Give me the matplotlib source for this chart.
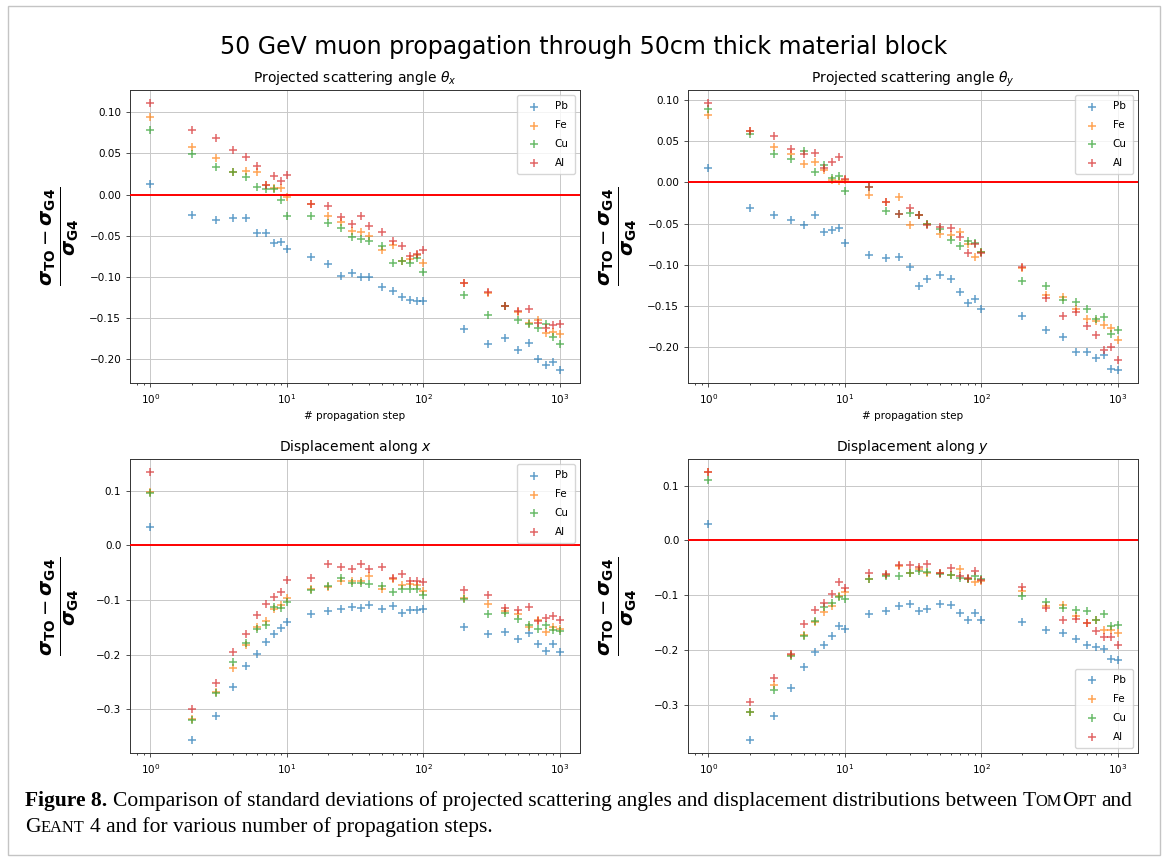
import numpy as np
import matplotlib
matplotlib.use('Agg')
import matplotlib.pyplot as plt
from matplotlib.ticker import MultipleLocator
from matplotlib.patches import Rectangle

# number of propagation steps (shared x values)
steps = [1, 2, 3, 4, 5, 6, 7, 8, 9, 10, 15, 20, 25, 30, 35, 40, 50, 60, 70, 80, 90,
         100, 200, 300, 400, 500, 600, 700, 800, 900, 1000]
materials = ['Pb', 'Fe', 'Cu', 'Al']

# projected scattering angle theta_x
pb_tx = [0.0125, -0.025, -0.031, -0.029, -0.029, -0.047, -0.047, -0.059, -0.058, -0.066, -0.076,
         -0.084, -0.099, -0.096, -0.100, -0.100, -0.113, -0.117, -0.124, -0.128, -0.129, -0.129,
         -0.163, -0.182, -0.175, -0.189, -0.181, -0.200, -0.207, -0.204, -0.213]
fe_tx = [0.094, 0.058, 0.044, 0.028, 0.029, 0.027, 0.012, 0.008, 0.008, -0.003, -0.012, -0.026,
         -0.033, -0.044, -0.045, -0.051, -0.067, -0.061, -0.081, -0.078, -0.073, -0.083, -0.108,
         -0.120, -0.136, -0.143, -0.156, -0.152, -0.168, -0.167, -0.170]
cu_tx = [0.078, 0.049, 0.033, 0.027, 0.021, 0.009, 0.007, 0.007, -0.007, -0.026, -0.026, -0.035,
         -0.041, -0.052, -0.054, -0.057, -0.062, -0.083, -0.081, -0.083, -0.077, -0.094, -0.122,
         -0.146, -0.136, -0.153, -0.158, -0.162, -0.158, -0.173, -0.182]
al_tx = [0.111, 0.078, 0.069, 0.054, 0.046, 0.035, 0.012, 0.023, 0.017, 0.024, -0.012, -0.014,
         -0.027, -0.036, -0.026, -0.038, -0.046, -0.057, -0.062, -0.075, -0.072, -0.068, -0.108,
         -0.119, -0.136, -0.142, -0.139, -0.156, -0.162, -0.159, -0.158]

# projected scattering angle theta_y
pb_ty = [0.017, -0.031, -0.039, -0.045, -0.051, -0.039, -0.060, -0.058, -0.055, -0.073, -0.088,
         -0.091, -0.090, -0.102, -0.125, -0.117, -0.112, -0.117, -0.133, -0.146, -0.141, -0.153,
         -0.162, -0.179, -0.187, -0.205, -0.205, -0.213, -0.209, -0.226, -0.227]
fe_ty = [0.082, 0.062, 0.043, 0.034, 0.023, 0.025, 0.015, 0.003, 0.002, 0.003, -0.015, -0.024,
         -0.018, -0.051, -0.040, -0.050, -0.062, -0.064, -0.060, -0.075, -0.090, -0.084, -0.104,
         -0.137, -0.139, -0.153, -0.166, -0.168, -0.173, -0.177, -0.191]
cu_ty = [0.089, 0.059, 0.035, 0.029, 0.038, 0.013, 0.021, 0.006, 0.008, -0.010, -0.006, -0.034,
         -0.038, -0.037, -0.039, -0.050, -0.057, -0.070, -0.077, -0.071, -0.073, -0.084, -0.119,
         -0.125, -0.143, -0.145, -0.153, -0.166, -0.163, -0.184, -0.179]
al_ty = [0.096, 0.063, 0.056, 0.040, 0.035, 0.036, 0.018, 0.025, 0.031, 0.004, -0.006, -0.024,
         -0.038, -0.031, -0.040, -0.051, -0.054, -0.055, -0.066, -0.085, -0.074, -0.085, -0.102,
         -0.140, -0.162, -0.157, -0.174, -0.185, -0.203, -0.199, -0.215]

# displacement along x
pb_dx = [0.034, -0.356, -0.313, -0.260, -0.221, -0.199, -0.177, -0.163, -0.152, -0.140, -0.126,
         -0.121, -0.117, -0.112, -0.114, -0.110, -0.117, -0.111, -0.123, -0.118, -0.118, -0.117,
         -0.149, -0.163, -0.158, -0.172, -0.161, -0.180, -0.193, -0.181, -0.195]
fe_dx = [0.098, -0.318, -0.269, -0.224, -0.183, -0.149, -0.139, -0.117, -0.110, -0.096, -0.079,
         -0.077, -0.065, -0.065, -0.066, -0.056, -0.079, -0.061, -0.072, -0.071, -0.072, -0.083,
         -0.096, -0.108, -0.121, -0.126, -0.149, -0.137, -0.158, -0.150, -0.154]
cu_dx = [0.096, -0.320, -0.270, -0.213, -0.179, -0.154, -0.145, -0.112, -0.115, -0.103, -0.082,
         -0.074, -0.060, -0.068, -0.068, -0.071, -0.074, -0.085, -0.079, -0.080, -0.079, -0.091,
         -0.099, -0.126, -0.123, -0.134, -0.146, -0.154, -0.146, -0.155, -0.156]
al_dx = [0.134, -0.299, -0.252, -0.196, -0.163, -0.128, -0.108, -0.094, -0.086, -0.064, -0.059,
         -0.034, -0.039, -0.043, -0.034, -0.044, -0.039, -0.060, -0.053, -0.066, -0.066, -0.067,
         -0.082, -0.091, -0.115, -0.118, -0.113, -0.138, -0.133, -0.129, -0.136]

# displacement along y
pb_dy = [0.030, -0.364, -0.320, -0.270, -0.232, -0.204, -0.192, -0.174, -0.156, -0.162, -0.134,
         -0.130, -0.120, -0.117, -0.130, -0.125, -0.117, -0.119, -0.132, -0.146, -0.132, -0.146,
         -0.149, -0.164, -0.170, -0.181, -0.192, -0.195, -0.198, -0.216, -0.219]
fe_dy = [0.124, -0.313, -0.265, -0.210, -0.173, -0.149, -0.131, -0.120, -0.102, -0.094, -0.071,
         -0.064, -0.047, -0.059, -0.053, -0.059, -0.060, -0.064, -0.053, -0.070, -0.076, -0.074,
         -0.093, -0.120, -0.119, -0.138, -0.151, -0.145, -0.163, -0.164, -0.170]
cu_dy = [0.110, -0.314, -0.273, -0.212, -0.175, -0.148, -0.121, -0.115, -0.104, -0.108, -0.071,
         -0.065, -0.066, -0.060, -0.057, -0.058, -0.062, -0.064, -0.068, -0.071, -0.066, -0.070,
         -0.101, -0.113, -0.123, -0.128, -0.130, -0.145, -0.135, -0.157, -0.155]
al_dy = [0.124, -0.295, -0.252, -0.207, -0.152, -0.127, -0.114, -0.099, -0.076, -0.087, -0.060,
         -0.062, -0.046, -0.046, -0.048, -0.044, -0.060, -0.050, -0.066, -0.068, -0.057, -0.073,
         -0.085, -0.124, -0.145, -0.143, -0.151, -0.166, -0.176, -0.176, -0.192]

colors = ['tab:blue', 'tab:orange', 'tab:green', 'tab:red']

W, H = 1168, 861
fig = plt.figure(figsize=(W / 100, H / 100), dpi=100)


def add_ax(x0, y0, x1, y1):
    # axes placed by pixel box (top-left origin)
    return fig.add_axes([x0 / W, 1 - y1 / H, (x1 - x0) / W, (y1 - y0) / H])


ylab = (r'$\frac{\boldsymbol{\sigma}_{\mathbf{TO}}-\boldsymbol{\sigma}_{\mathbf{G4}}}'
        r'{\boldsymbol{\sigma}_{\mathbf{G4}}}$')

panels = [
    (add_ax(130, 90, 580, 383), r'Projected scattering angle $\theta_x$',
     [pb_tx, fe_tx, cu_tx, al_tx], 0.05, 'upper right', True),
    (add_ax(688, 90, 1138, 383), r'Projected scattering angle $\theta_y$',
     [pb_ty, fe_ty, cu_ty, al_ty], 0.05, 'upper right', True),
    (add_ax(130, 459, 580, 753), r'Displacement along $x$',
     [pb_dx, fe_dx, cu_dx, al_dx], 0.1, 'upper right', False),
    (add_ax(688, 459, 1138, 753), r'Displacement along $y$',
     [pb_dy, fe_dy, cu_dy, al_dy], 0.1, 'lower right', False),
]

for ax, title, series, ystep, loc, xlab in panels:
    for vals, name, c in zip(series, materials, colors):
        ax.scatter(steps, vals, marker='+', s=34, linewidths=1.1, alpha=0.7,
                   color=c, label=name)
    ax.set_xscale('log')
    ax.axhline(0, color='red', lw=1.4, zorder=3)
    ax.yaxis.set_major_locator(MultipleLocator(ystep))
    ax.grid(True, which='major', color='#c8c8c8', lw=0.7)
    ax.set_axisbelow(True)
    ax.tick_params(labelsize=7.5, length=2.8, width=0.6, color='#333333')
    ax.tick_params(which='minor', length=1.6, width=0.5)
    for sp in ax.spines.values():
        sp.set_linewidth(0.7)
        sp.set_color('#333333')
    ax.set_title(title, fontsize=10, pad=5.5)
    ax.set_ylabel(ylab, fontsize=20)
    ax.yaxis.set_label_coords(-0.108, 0.5)
    if xlab:
        ax.set_xlabel('# propagation step', fontsize=7.5, labelpad=4)
    ax.legend(loc=loc, fontsize=7.5, scatterpoints=1, handletextpad=1.0,
              borderpad=0.6, labelspacing=0.85)

fig.text(0.5, 1 - 54 / H, '50 GeV muon propagation through 50cm thick material block',
         fontsize=17, ha='center', va='baseline')

# page frame
fig.add_artist(Rectangle((8 / W, 1 - 855 / H), 1152 / W, 849 / H, transform=fig.transFigure,
                         fill=False, ec='#c4c4c4', lw=1))

# caption with small caps pieces
renderer = fig.canvas.get_renderer()
cap_font = 'Liberation Serif'
sc = 0.76

line1 = [('Figure 8.', 1, 'bold'), (' ',),
         ('Comparison of standard deviations of projected scattering angles and displacement '
          'distributions between', 1, 'normal'), (' ',),
         ('T', 1, 'normal'), ('OM', sc, 'normal'), ('O', 1, 'normal'), ('PT', sc, 'normal'),
         (' ',), ('and', 1, 'normal')]
line2 = [('G', 1, 'normal'), ('EANT', sc, 'normal'), (' ',),
         ('4 and for various number of propagation steps.', 1, 'normal')]


def text_width(s, size, weight):
    t = fig.text(0, 0, s, fontsize=size, fontweight=weight, family=cap_font)
    w = t.get_window_extent(renderer).width
    t.remove()
    return w


def draw_line(pieces, x, y, base, draw=True):
    space = text_width('a a', base, 'normal') - text_width('aa', base, 'normal')
    for p in pieces:
        if p[0] == ' ':
            x += space
            continue
        s, k, wt = p
        if draw:
            t = fig.text(x / W, 1 - y / H, s, fontsize=base * k, fontweight=wt,
                         family=cap_font, va='baseline')
            x += t.get_window_extent(renderer).width
        else:
            x += text_width(s, base * k, wt)
    return x


w10 = draw_line(line1, 0, 0, 10, draw=False)
base = 10 * 1110 / w10
draw_line(line1, 25, 806, base)
draw_line(line2, 25, 832, base)

fig.savefig('out.png', dpi=100)
